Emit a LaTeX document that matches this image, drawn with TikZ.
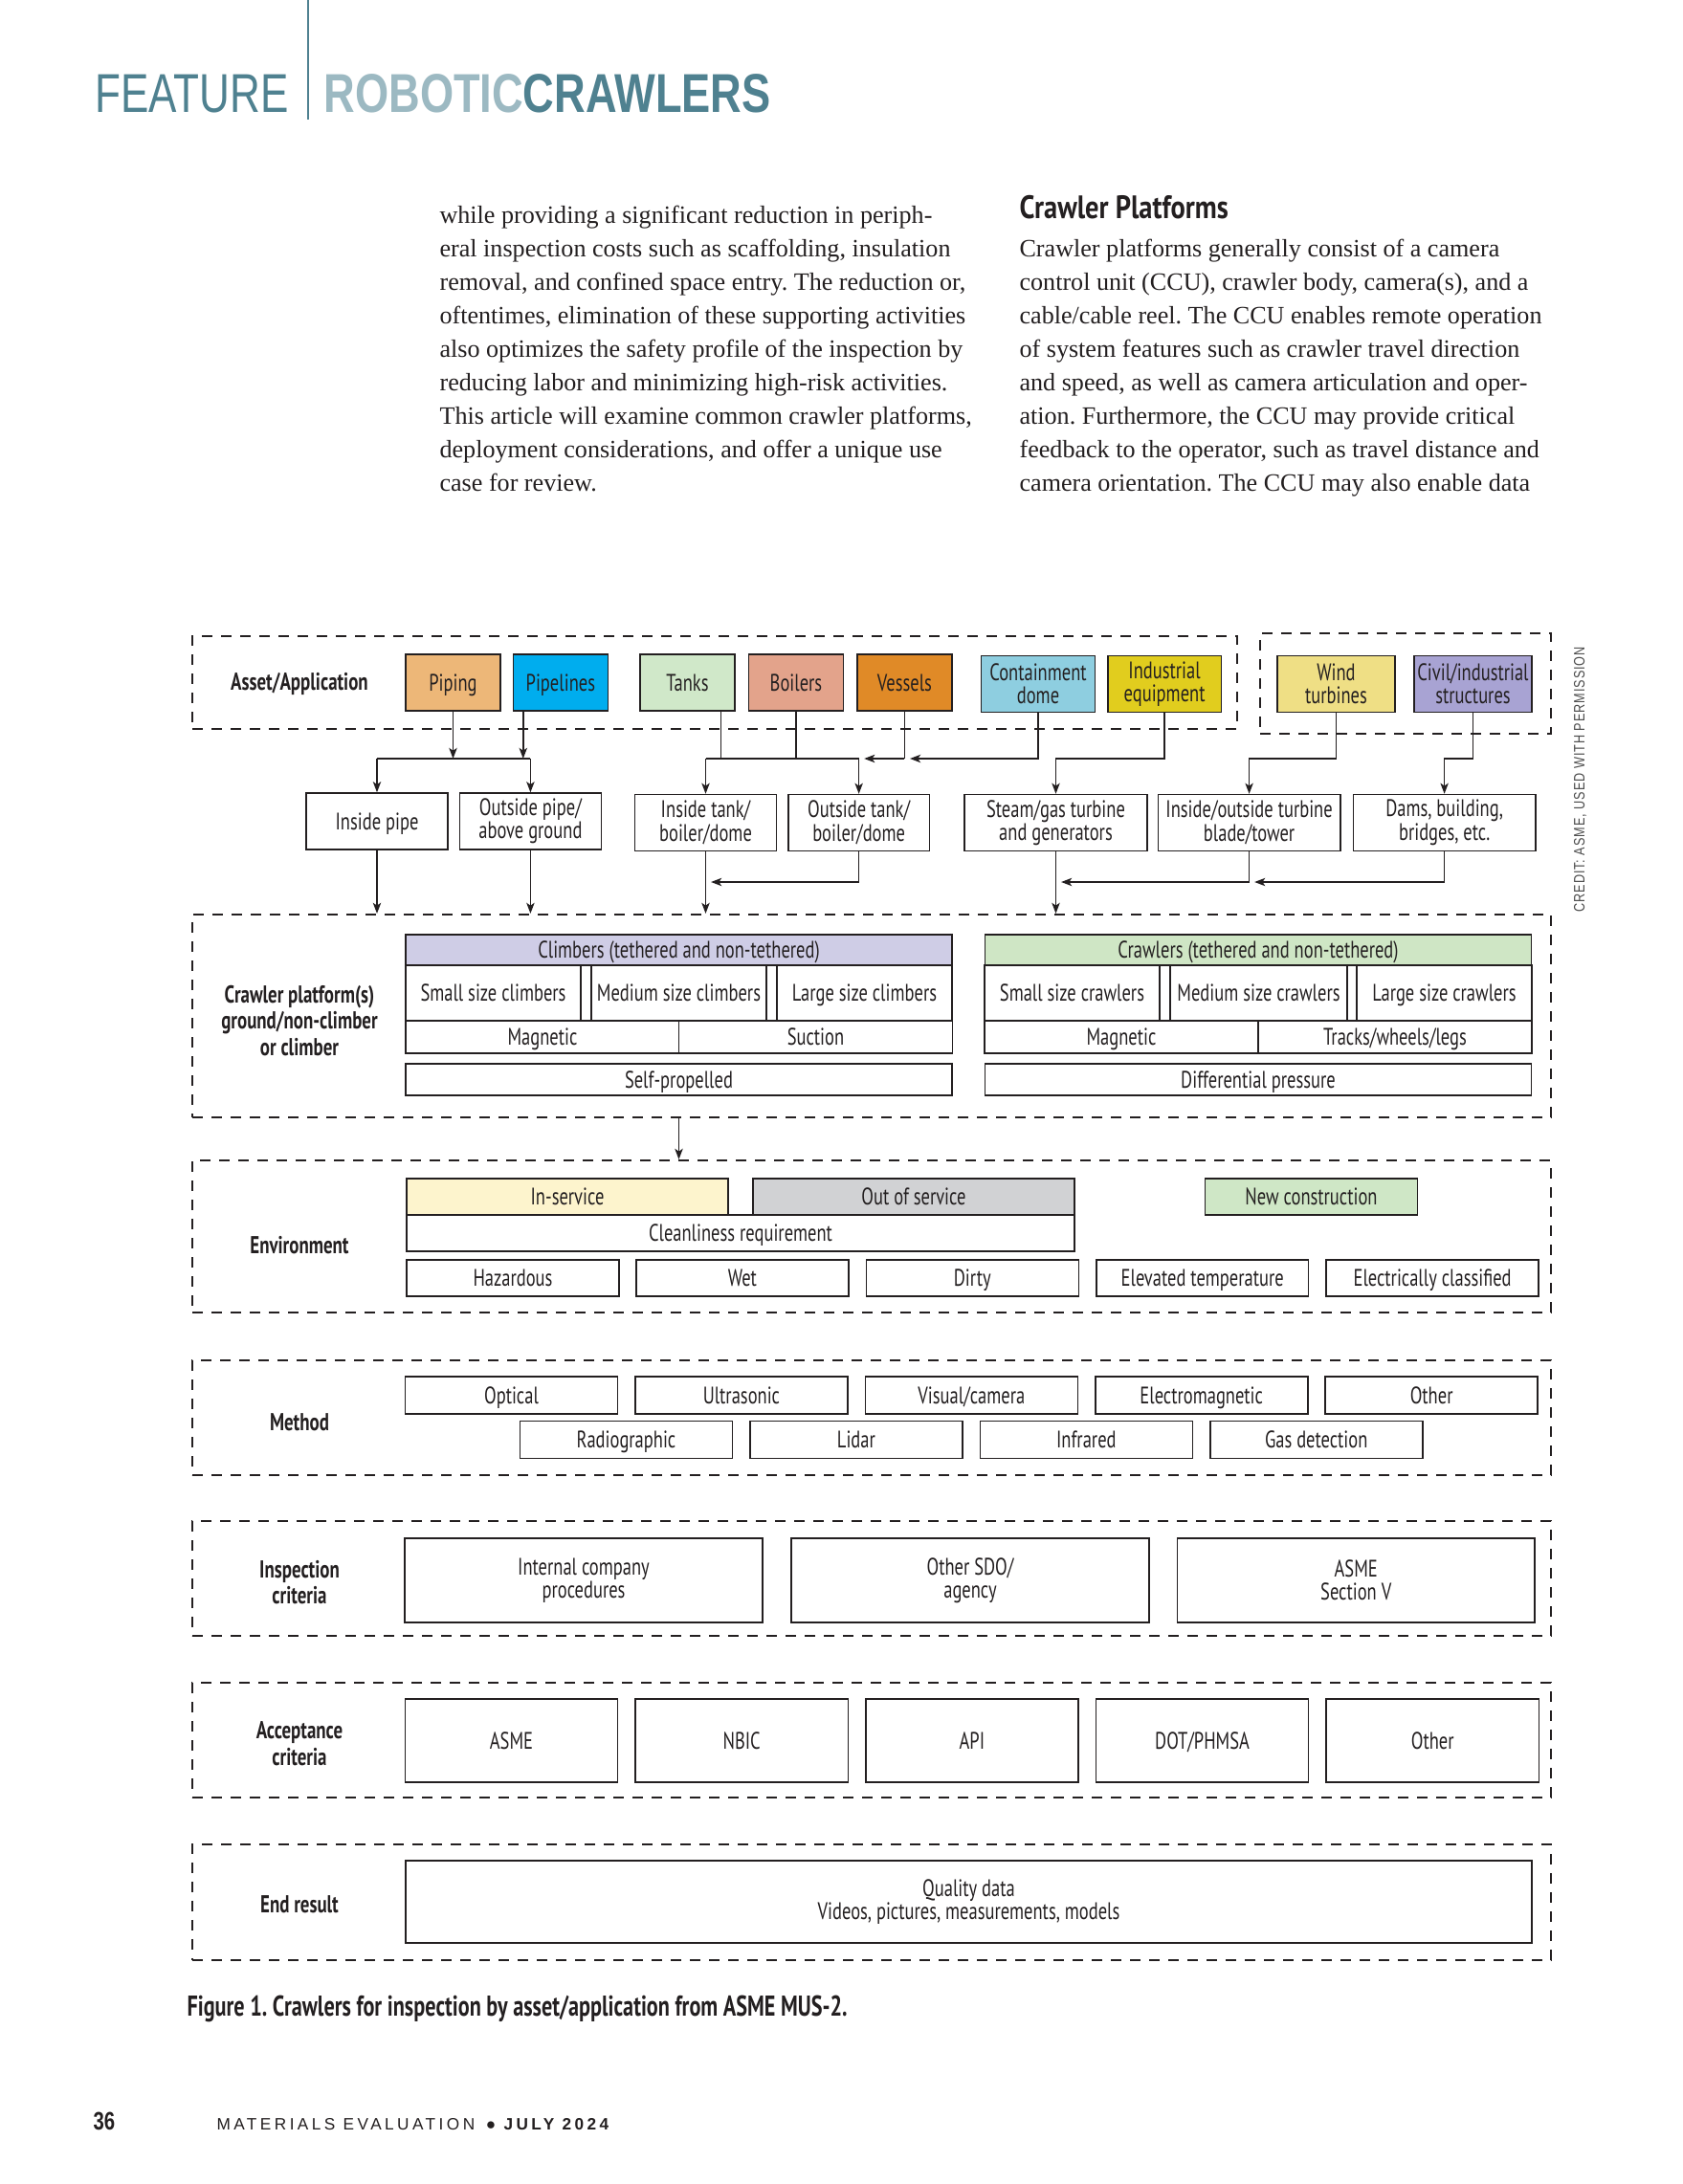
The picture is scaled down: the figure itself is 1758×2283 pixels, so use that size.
\documentclass[tikz,border=0pt]{standalone}
\usepackage{fontspec}
\setmainfont{Liberation Serif}
\newfontfamily\diagfont[FakeStretch=0.74]{PT Sans}
\newfontfamily\headfont[FakeStretch=0.84]{PT Sans}
\newfontfamily\titlefont[FakeStretch=0.77]{Liberation Sans}
\newfontfamily\seriesfont[FakeStretch=0.79]{Liberation Sans}
\newfontfamily\footfont[LetterSpace=20]{Liberation Sans}
\newfontfamily\creditfont[FakeStretch=0.8,LetterSpace=6]{Liberation Sans}
\usetikzlibrary{arrows.meta,positioning}
\frenchspacing

\definecolor{ink}{HTML}{231F20}
\definecolor{teal-ink}{HTML}{4F8190}
\definecolor{teal-pale}{HTML}{9CB9C2}
\definecolor{piping-fill}{HTML}{EDB778}
\definecolor{pipeline-fill}{HTML}{00ADEE}
\definecolor{tank-fill}{HTML}{D0E8C9}
\definecolor{boiler-fill}{HTML}{E3A38B}
\definecolor{vessel-fill}{HTML}{E08A27}
\definecolor{dome-fill}{HTML}{8ECEE0}
\definecolor{equip-fill}{HTML}{E1CD1E}
\definecolor{wind-fill}{HTML}{EFDF85}
\definecolor{civil-fill}{HTML}{A8A3D3}
\definecolor{climb-fill}{HTML}{CFCDE6}
\definecolor{crawl-fill}{HTML}{CFE6C5}
\definecolor{service-fill}{HTML}{FDF4CD}
\definecolor{outage-fill}{HTML}{D1D2D4}
\definecolor{new-fill}{HTML}{CFE7C6}

\begin{document}
\begin{tikzpicture}[
  x=0.36pt, y=-0.36pt,
  group/.style={
    draw=ink,
    line width=0.8pt,
    dash pattern=on 4pt off 3.2pt,
    inner sep=0pt,
    minimum width=511.2pt
  },
  cell/.style={
    draw=ink,
    line width=0.55pt,
    fill=white,
    align=center,
    inner sep=0pt,
    text=ink,
    font=\diagfont\fontsize{9}{8.8}\selectfont
  },
  one line/.style={text height=8.2pt, text depth=2pt},
  asset/.style={cell, one line, minimum width=35.6pt, minimum height=21.2pt},
  wide asset/.style={cell, minimum width=42.7pt, minimum height=21.2pt},
  use/.style={cell, minimum width=53.2pt, minimum height=21.2pt},
  wide use/.style={use, minimum width=68.6pt},
  kind head/.style={cell, one line, minimum width=205.6pt, minimum height=11.5pt},
  size cell/.style={cell, one line, minimum width=65.9pt, minimum height=20.9pt},
  mode cell/.style={cell, one line, minimum width=102.8pt, minimum height=12.2pt},
  drive cell/.style={cell, one line, minimum width=205.6pt, minimum height=11.9pt},
  env cell/.style={cell, one line, minimum width=79.9pt, minimum height=13.7pt},
  method cell/.style={cell, one line, minimum width=79.9pt, minimum height=14pt},
  code cell/.style={cell, minimum width=134.5pt, minimum height=31.7pt},
  accept cell/.style={cell, one line, minimum width=80pt, minimum height=31.3pt},
  group label/.style={
    align=center,
    inner sep=0pt,
    text=ink,
    font=\diagfont\bfseries\fontsize{9.2}{10}\selectfont
  },
  body/.style={
    align=left,
    inner sep=0pt,
    text=ink,
    font=\fontsize{9.4}{12.6}\selectfont
  },
  link/.style={draw=ink, line width=0.55pt},
  flow/.style={link, -{Stealth[length=4pt,width=3pt,inset=1pt]}}
]
  \useasboundingbox (0,0) rectangle (1758,2283);
  \fill[white] (0,0) rectangle (1758,2283);

  % page head
  \draw[teal-ink, line width=1pt] (322,0) -- (322,125);
  \node[anchor=base west, inner sep=0pt, text=teal-ink,
    font=\titlefont\fontsize{20.6}{20}\selectfont] (feature) at (99,118) {FEATURE};
  \node[anchor=base west, inner sep=0pt,
    font=\seriesfont\bfseries\fontsize{20.6}{20}\selectfont] (series) at (338,118)
    {\textcolor{teal-pale}{ROBOTIC}\textcolor{teal-ink}{CRAWLERS}};

  % article text
  \node[body, anchor=north west] (intro-text) at (459,215)
    {while providing a significant reduction in periph-\\
     eral inspection costs such as scaffolding, insulation\\
     removal, and confined space entry. The reduction or,\\
     oftentimes, elimination of these supporting activities\\
     also optimizes the safety profile of the inspection by\\
     reducing labor and minimizing high-risk activities.\\
     This article will examine common crawler platforms,\\
     deployment considerations, and offer a unique use\\
     case for review.};
  \node[anchor=base west, inner sep=0pt, text=ink,
    font=\headfont\bfseries\fontsize{12.2}{13}\selectfont] (platform-head) at (1065,229)
    {Crawler Platforms};
  \node[body, anchor=north west] (platform-text) at (1065,250)
    {Crawler platforms generally consist of a camera\\
     control unit (CCU), crawler body, camera(s), and a\\
     cable/cable reel. The CCU enables remote operation\\
     of system features such as crawler travel direction\\
     and speed, as well as camera articulation and oper-\\
     ation. Furthermore, the CCU may provide critical\\
     feedback to the operator, such as travel distance and\\
     camera orientation. The CCU may also enable data};

  % groups
  \node[group, minimum width=393.1pt, minimum height=34.9pt] (asset-group) at (747,713.5) {};
  \node[group, minimum width=109.4pt, minimum height=37.8pt] (wind-group) at (1469,714.5) {};
  \node[group, minimum height=76.3pt] (crawl-group) at (911,1062) {};
  \node[group, minimum height=57.2pt] (env-group) at (911,1292.5) {};
  \node[group, minimum height=43.2pt] (method-group) at (911,1482) {};
  \node[group, minimum height=43.2pt] (insp-group) at (911,1650) {};
  \node[group, minimum height=43.2pt] (accept-group) at (911,1819) {};
  \node[group, minimum height=43.6pt] (end-group) at (911,1988.5) {};

  \node[group label] (asset-label) at (313,715) {Asset/Application};
  \node[group label] (platform-label) at (313,1067) {Crawler platform(s)\\ground/non-climber\\or climber};
  \node[group label] (env-label) at (313,1302) {Environment};
  \node[group label] (method-label) at (313,1487) {Method};
  \node[group label] (insp-label) at (313,1654) {Inspection\\criteria};
  \node[group label] (accept-label) at (313,1823) {Acceptance\\criteria};
  \node[group label] (end-label) at (313,1991) {End result};

  % assets
  \node[asset, fill=piping-fill] (piping) at (473.5,713.5) {Piping};
  \node[asset, fill=pipeline-fill, right=4.3pt of piping] (pipelines) {Pipelines};
  \node[asset, fill=tank-fill] (tanks) at (718.5,713.5) {Tanks};
  \node[asset, fill=boiler-fill, right=4.7pt of tanks] (boilers) {Boilers};
  \node[asset, fill=vessel-fill, right=4.7pt of boilers] (vessels) {Vessels};
  \node[wide asset, fill=dome-fill] (containment) at (1085,715) {Containment\\dome};
  \node[wide asset, fill=equip-fill, right=4.3pt of containment] (industrial) {Industrial\\equipment};
  \node[wide asset, minimum width=44.3pt, fill=wind-fill] (wind) at (1396.5,715) {Wind\\turbines};
  \node[wide asset, minimum width=44.3pt, fill=civil-fill] (civil) at (1539.5,715) {Civil/industrial\\structures};

  % uses
  \node[use, one line] (inpipe) at (394,858.5) {Inside pipe};
  \node[use, right=4pt of inpipe] (outpipe) {Outside pipe/\\above ground};
  \node[use] (intank) at (737.5,860) {Inside tank/\\boiler/dome};
  \node[use, right=3.9pt of intank] (outtank) {Outside tank/\\boiler/dome};
  \node[wide use] (steam) at (1103.5,860) {Steam/gas turbine\\and generators};
  \node[wide use, right=3.6pt of steam] (turbine) {Inside/outside turbine\\blade/tower};
  \node[wide use, right=4.3pt of turbine] (dams) {Dams, building,\\bridges, etc.};

  % crawler platforms
  \node[kind head, fill=climb-fill] (climb-head) at (709.5,993) {Climbers (tethered and non-tethered)};
  \node[kind head, fill=crawl-fill] (crawl-head) at (1315,993) {Crawlers (tethered and non-tethered)};
  \node[size cell] (climb-small) at (515.5,1038) {Small size climbers};
  \node[size cell] (climb-medium) at (709.5,1038) {Medium size climbers};
  \node[size cell] (climb-large) at (903.5,1038) {Large size climbers};
  \node[size cell] (crawl-small) at (1120.5,1038) {Small size crawlers};
  \node[size cell, minimum width=66.6pt] (crawl-medium) at (1315.5,1038) {Medium size crawlers};
  \node[size cell] (crawl-large) at (1509.5,1038) {Large size crawlers};
  \node[mode cell] (climb-magnetic) at (567,1084) {Magnetic};
  \node[mode cell] (climb-suction) at (852.5,1084) {Suction};
  \node[mode cell] (crawl-magnetic) at (1172,1084) {Magnetic};
  \node[mode cell] (crawl-tracks) at (1458,1084) {Tracks/wheels/legs};
  \node[drive cell] (climb-self) at (709.5,1128.5) {Self-propelled};
  \node[drive cell] (crawl-diff) at (1315,1128.5) {Differential pressure};

  % environment
  \node[env cell, minimum width=121pt, fill=service-fill] (in-service) at (593,1251) {In-service};
  \node[env cell, minimum width=121pt, fill=outage-fill] (out-service) at (955,1251) {Out of service};
  \node[env cell, fill=new-fill] (new-build) at (1370.5,1251) {New construction};
  \node[env cell, minimum width=251.3pt] (clean) at (774,1289) {Cleanliness requirement};
  \node[env cell] (hazardous) at (536,1336) {Hazardous};
  \node[env cell, right=5.9pt of hazardous] (wet) {Wet};
  \node[env cell, right=6.1pt of wet] (dirty) {Dirty};
  \node[env cell, right=6.1pt of dirty] (hot) {Elevated temperature};
  \node[env cell, right=6.1pt of hot] (electric) {Electrically classified};

  % methods
  \node[method cell] (optical) at (534.5,1458.5) {Optical};
  \node[method cell, right=6.1pt of optical] (ultrasonic) {Ultrasonic};
  \node[method cell, right=6.1pt of ultrasonic] (visual) {Visual/camera};
  \node[method cell, right=6.1pt of visual] (electromag) {Electromagnetic};
  \node[method cell, right=6.1pt of electromag] (method-other) {Other};
  \node[method cell] (radiographic) at (654.5,1505) {Radiographic};
  \node[method cell, right=6.1pt of radiographic] (lidar) {Lidar};
  \node[method cell, right=6.1pt of lidar] (infrared) {Infrared};
  \node[method cell, right=6.1pt of infrared] (gas) {Gas detection};

  % criteria
  \node[code cell] (internal) at (610,1652) {Internal company\\procedures};
  \node[code cell, right=10.4pt of internal] (sdo) {Other SDO/\\agency};
  \node[code cell, right=10.1pt of sdo] (asme-v) {ASME\\Section V};
  \node[accept cell] (asme) at (534.5,1819.5) {ASME};
  \node[accept cell, right=6.1pt of asme] (nbic) {NBIC};
  \node[accept cell, right=6.1pt of nbic] (api) {API};
  \node[accept cell, right=6.1pt of api] (dot) {DOT/PHMSA};
  \node[accept cell, right=6.1pt of dot] (accept-other) {Other};
  \node[cell, minimum width=423.7pt, minimum height=31pt] (quality) at (1012.5,1988)
    {Quality data\\Videos, pictures, measurements, models};

  % connectors
  \coordinate (upper-bus) at (0,793);
  \coordinate (lower-bus) at (0,922);
  \coordinate (pipelines-drop) at ([xshift=4pt]pipelines.south west);
  \coordinate (tanks-drop) at ([xshift=-5.4pt]tanks.south east);

  \draw[flow] (piping) -- (piping |- upper-bus);
  \draw[flow] (pipelines-drop) -- (pipelines-drop |- upper-bus);
  \draw[link] (inpipe |- upper-bus) -- (outpipe |- upper-bus);
  \draw[flow] (inpipe |- upper-bus) -- (inpipe);
  \draw[flow] (outpipe |- upper-bus) -- (outpipe);

  \draw[link] (tanks-drop) -- (tanks-drop |- upper-bus);
  \draw[link] (boilers) -- (boilers |- upper-bus);
  \draw[link] (vessels) -- (vessels |- upper-bus);
  \draw[flow] (containment) |- ([xshift=2pt]vessels |- upper-bus);
  \draw[flow] (vessels |- upper-bus) -- ([xshift=2pt]outtank |- upper-bus);
  \draw[link] (outtank |- upper-bus) -- (intank |- upper-bus);
  \draw[flow] (intank |- upper-bus) -- (intank);
  \draw[flow] (outtank |- upper-bus) -- (outtank);
  \draw[flow] (industrial) |- (steam |- upper-bus) -- (steam);
  \draw[flow] (wind) |- (turbine |- upper-bus) -- (turbine);
  \draw[flow] (civil) |- (dams |- upper-bus) -- (dams);

  \draw[flow] (dams) |- ([xshift=2pt]turbine |- lower-bus);
  \draw[flow] (turbine) |- ([xshift=2pt]steam |- lower-bus);
  \draw[flow] (outtank) |- ([xshift=2pt]intank |- lower-bus);
  \draw[flow] (inpipe) -- (inpipe |- crawl-group.north);
  \draw[flow] (outpipe) -- (outpipe |- crawl-group.north);
  \draw[flow] (intank) -- (intank |- crawl-group.north);
  \draw[flow] (steam) -- (steam |- crawl-group.north);
  \draw[flow] (climb-self |- crawl-group.south) -- (climb-self |- env-group.north);

  % caption, credit and folio
  \node[anchor=base west, inner sep=0pt, text=ink,
    font=\diagfont\bfseries\fontsize{10.8}{11}\selectfont] (caption) at (195,2107)
    {Figure 1. Crawlers for inspection by asset/application from ASME MUS-2.};
  \node[anchor=base west, inner sep=0pt, rotate=90, text=black!70,
    font=\creditfont\fontsize{5.7}{6}\selectfont] (credit) at (1656,954)
    {CREDIT: ASME, USED WITH PERMISSION};
  \node[anchor=base west, inner sep=0pt, text=ink,
    font=\titlefont\bfseries\fontsize{9.5}{10}\selectfont] (folio) at (97,2226) {36};
  \node[anchor=base west, inner sep=0pt, text=ink,
    font=\footfont\fontsize{6.2}{7}\selectfont] (journal) at (226,2226)
    {MATERIALS EVALUATION \textbf{● JULY 2024}};
\end{tikzpicture}
\end{document}
